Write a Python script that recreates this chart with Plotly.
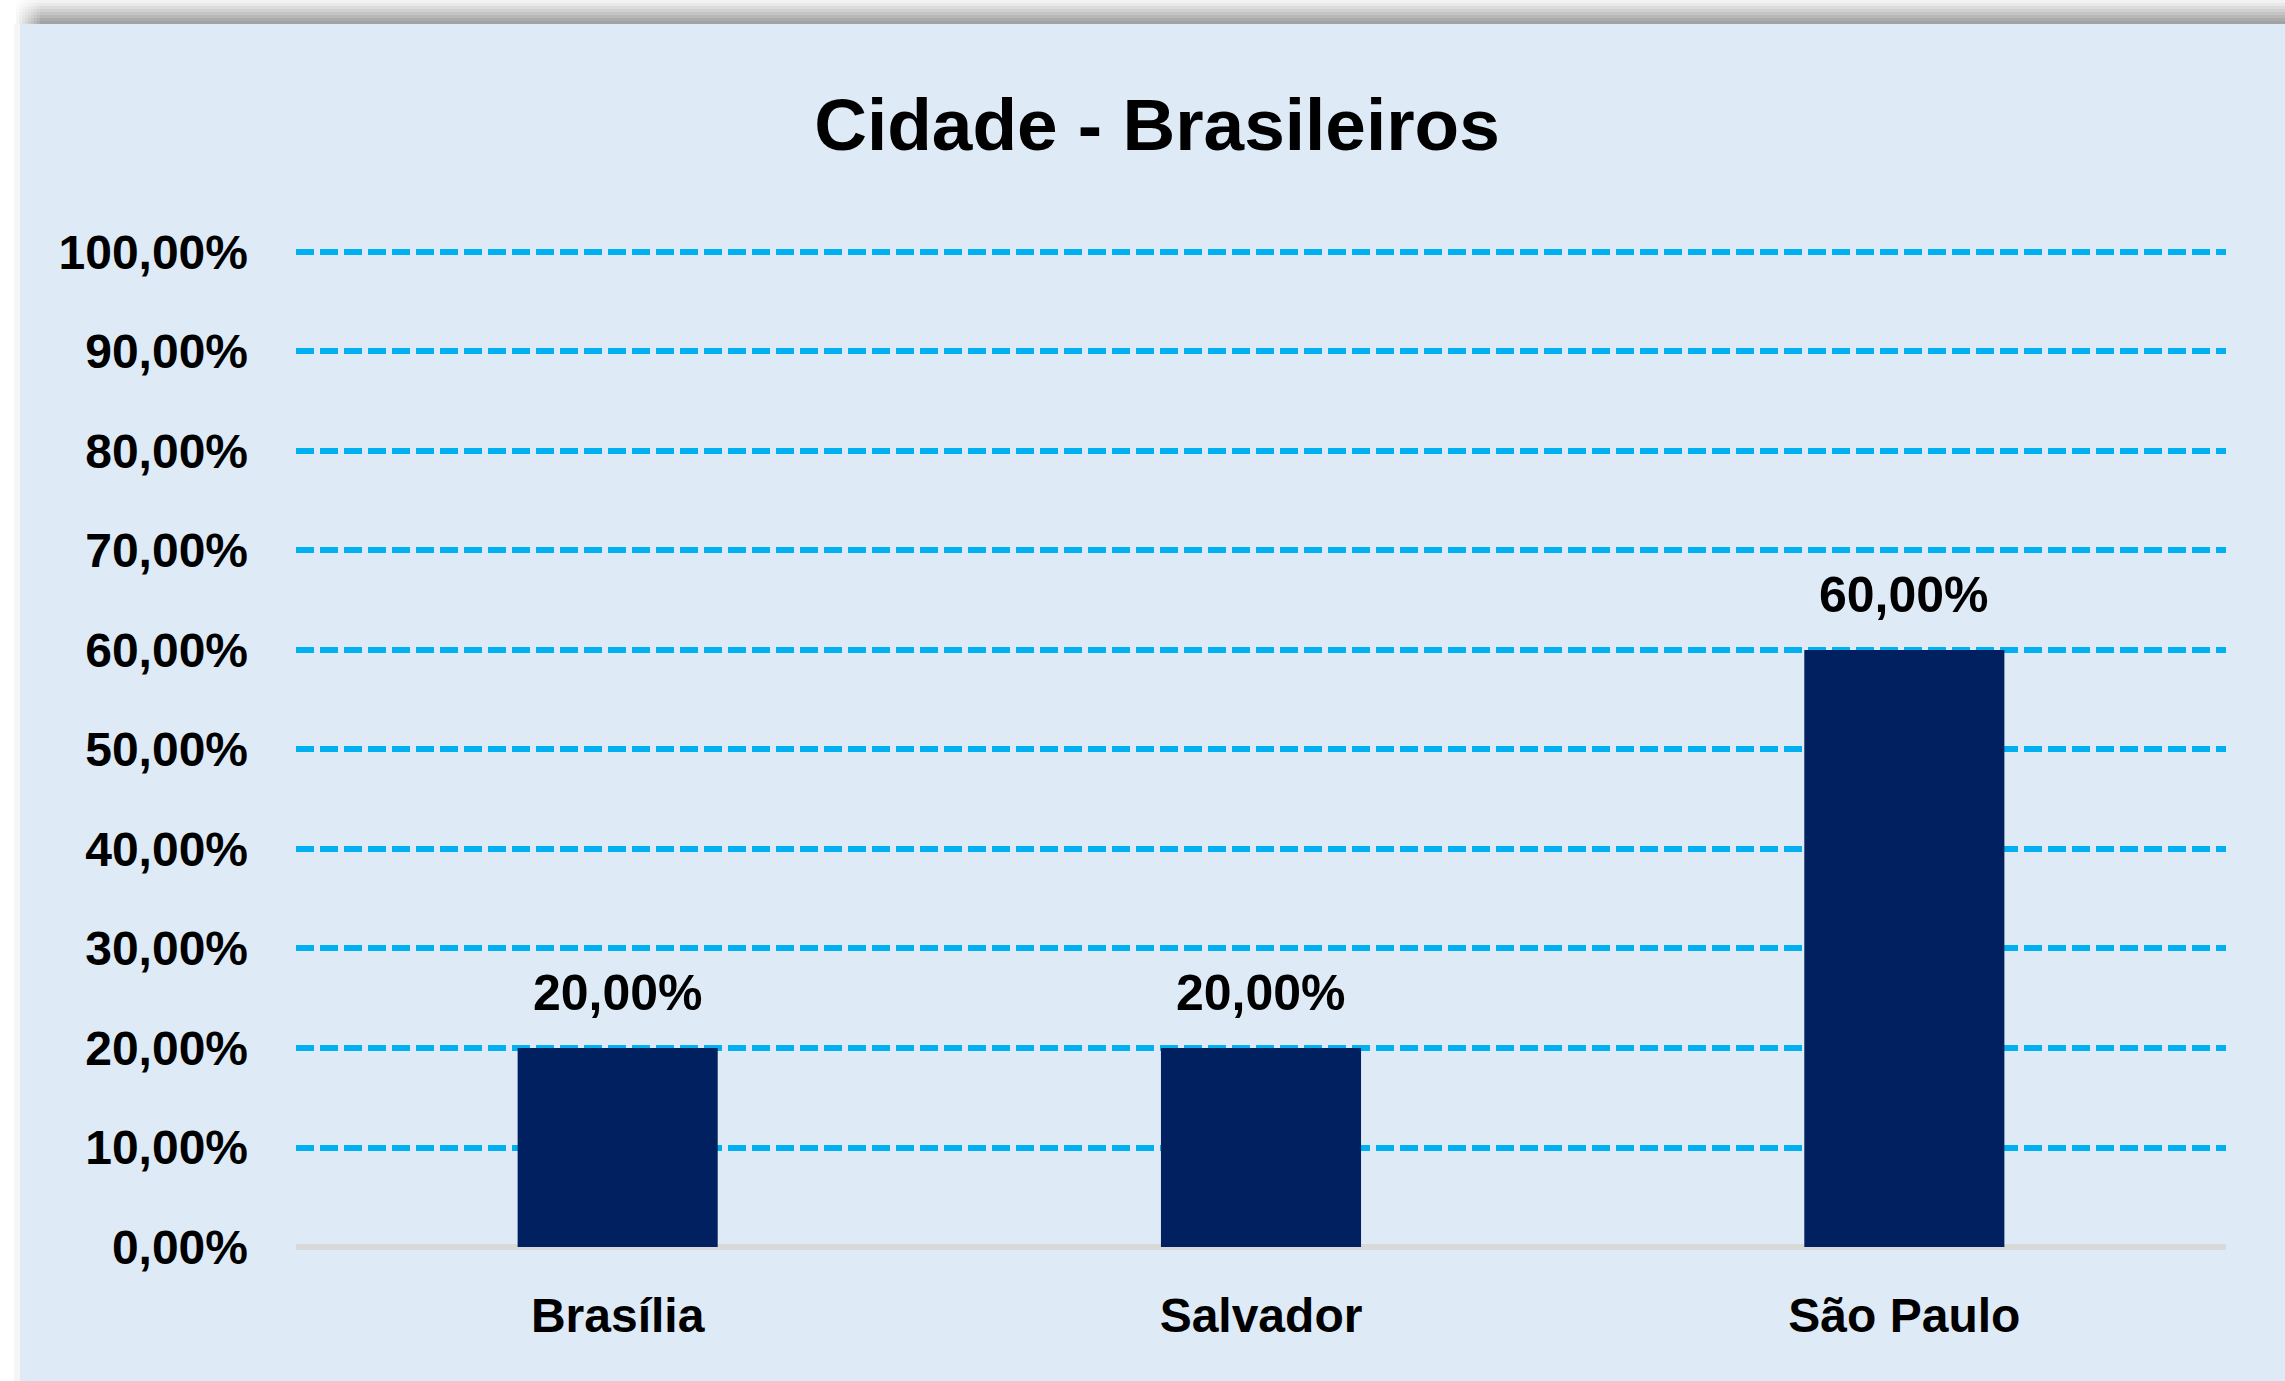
import plotly.graph_objects as go

# ---- data ----
categories = ["Brasília", "Salvador", "São Paulo"]
values = [0.20, 0.20, 0.60]
y_tickvals = [0.0, 0.1, 0.2, 0.3, 0.4, 0.5, 0.6, 0.7, 0.8, 0.9, 1.0]
y_ticktext = ["0,00%", "10,00%", "20,00%", "30,00%", "40,00%", "50,00%",
              "60,00%", "70,00%", "80,00%", "90,00%", "100,00%"]
title_text = "Cidade - Brasileiros"

# ---- layout geometry (pixels) ----
W, H = 2285, 1381
Y_TOP = 1.006                     # small headroom so the 100% gridline is drawn
L, R, B = 296, 2226, 1247
SCALE = 995                       # pixels per unit (0 -> 1247, 1 -> 252)
T = B - SCALE * Y_TOP
PW, PH = R - L, B - T

def px(x):
    return (x - L) / PW

def py(y):
    return (B - y) / PH

FONT = "Liberation Sans, Arial, sans-serif"
BG = "#DEEBF7"

fig = go.Figure()
fig.add_trace(go.Bar(
    x=categories, y=values,
    marker=dict(color="#002060", line=dict(width=0)),
    hoverinfo="skip",
))

def fmt(v):
    return f"{v*100:.2f}".replace(".", ",") + "%"

annotations = []
for c, v in zip(categories, values):
    annotations.append(dict(
        x=c, y=v, xref="x", yref="y", text=fmt(v), showarrow=False,
        yanchor="bottom", xanchor="center", yshift=25,
        font=dict(family=FONT, size=50, color="#000000", weight="bold"),
    ))

shapes = []
def rect(x0, x1, y0, y1, color):
    shapes.append(dict(type="rect", xref="paper", yref="paper", layer="below",
                       x0=px(x0), x1=px(x1), y0=py(y1), y1=py(y0),
                       fillcolor=color, line=dict(width=0)))

rect(0, W, 0, H, "#FFFFFF")
rect(14, 20, 24, H, "#F6F6F6")
rect(20, W, 24, H, BG)
# top shadow gradient with a soft left corner
greys = [242, 232, 220, 208, 196, 184, 172, 162]
cols = 8
for i, g in enumerate(greys):
    rect(40, W, 3 * i, 3 * i + 3, f"rgb({g},{g},{g})")
    for j in range(cols):
        f = (j + 1) / (cols + 1)
        c = round(255 - (255 - g) * f)
        rect(16 + 3 * j, 16 + 3 * j + 3, 3 * i, 3 * i + 3, f"rgb({c},{c},{c})")

fig.update_layout(
    width=W, height=H,
    margin=dict(l=L, r=W - R, t=T, b=H - B, pad=0, autoexpand=False),
    paper_bgcolor="#FFFFFF",
    plot_bgcolor="rgba(0,0,0,0)",
    bargap=0.689,
    showlegend=False,
    title=dict(text=title_text, x=1157 / W, xref="container", xanchor="center",
               y=1 - 124 / H, yref="container", yanchor="middle",
               font=dict(family=FONT, size=73, color="#000000", weight="bold")),
    xaxis=dict(
        showgrid=False, showline=False, zeroline=False, ticks="",
        tickfont=dict(family=FONT, size=48, color="#000000", weight="bold"),
        ticklabelstandoff=36, fixedrange=True, automargin=False,
    ),
    yaxis=dict(
        range=[0, Y_TOP], tickvals=y_tickvals, ticktext=y_ticktext,
        showgrid=True, gridcolor="#00B0F0", gridwidth=6, griddash="18px,6px",
        zeroline=True, zerolinecolor="#D9D9D9", zerolinewidth=6,
        showline=False, ticks="",
        tickfont=dict(family=FONT, size=48, color="#000000", weight="bold"),
        ticklabelstandoff=47, fixedrange=True, automargin=False,
    ),
    annotations=annotations,
    shapes=shapes,
)

fig.write_html(
    "out.html",
    config={"displayModeBar": False},
    post_script="document.body.style.margin='0';document.body.style.overflow='hidden';",
)
